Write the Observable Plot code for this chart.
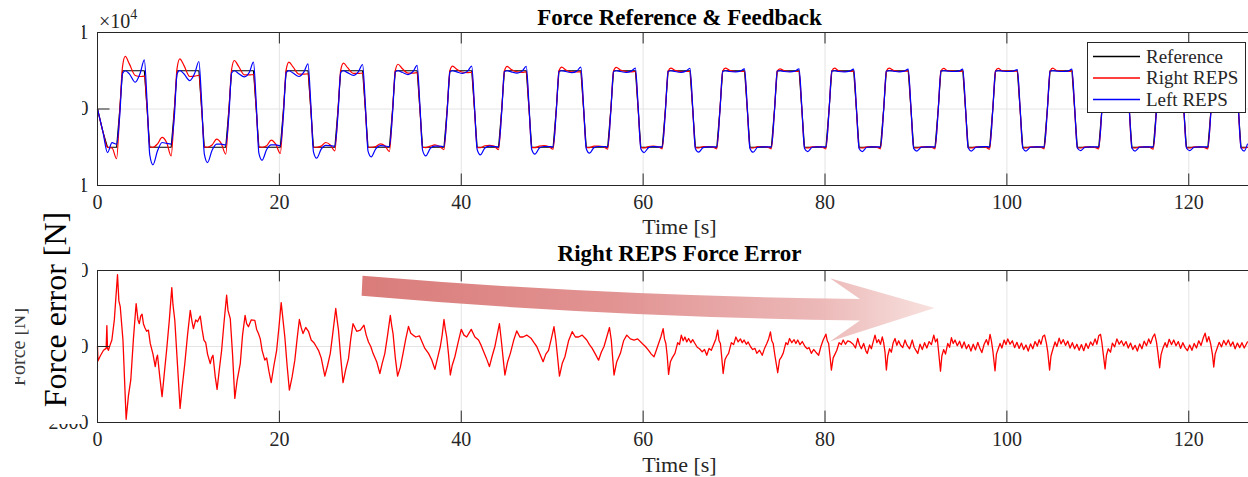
<!DOCTYPE html>
<html><head><meta charset="utf-8">
<script src="https://cdn.jsdelivr.net/npm/d3@7"></script>
<script src="https://cdn.jsdelivr.net/npm/@observablehq/plot@0.6"></script>
<style>
html,body{margin:0;padding:0;background:#fff;}
#fig{position:relative;width:1248px;height:477px;overflow:hidden;background:#fff;}
#fig > svg{position:absolute;left:0;}
#fig svg text{font-family:"Liberation Serif","Times New Roman",serif;}
</style></head><body><div id="fig"></div>
<script>
// ---------- labels ----------
const titles = ["Force Reference & Feedback", "Right REPS Force Error"];
const xLabel = "Time [s]";
const yLabelOld = "Force [N]";
const yLabelNew = "Force error [N]";
const seriesNames = ["Reference", "Right REPS", "Left REPS"];
const seriesColors = ["#000000", "#ff0000", "#0000ff"];
const xTicks = [0, 20, 40, 60, 80, 100, 120];
const forceTicks = [-10000, 0, 10000];
const errTicks = [-2000, 0, 2000];

// ---------- top panel: time samples (s) ----------
const fbT = [
0,
0.1,0.6,1.1,1.6,2.1,2.45,2.75,3.05,3.5,4.15,4.7,5.15,5.45,5.75,
6.1,6.6,7.1,7.6,8.1,8.45,8.75,9.05,9.5,10.15,10.7,11.15,11.45,11.75,
12.1,12.6,13.1,13.6,14.1,14.45,14.75,15.05,15.5,16.15,16.7,17.15,17.45,17.75,
18.1,18.6,19.1,19.6,20.1,20.45,20.75,21.05,21.5,22.15,22.7,23.15,23.45,23.75,
24.1,24.6,25.1,25.6,26.1,26.45,26.75,27.05,27.5,28.15,28.7,29.15,29.45,29.75,
30.1,30.6,31.1,31.6,32.1,32.45,32.75,33.05,33.5,34.15,34.7,35.15,35.45,35.75,
36.1,36.6,37.1,37.6,38.1,38.45,38.75,39.05,39.5,40.15,40.7,41.15,41.45,41.75,
42.1,42.6,43.1,43.6,44.1,44.45,44.75,45.05,45.5,46.15,46.7,47.15,47.45,47.75,
48.1,48.6,49.1,49.6,50.1,50.45,50.75,51.05,51.5,52.15,52.7,53.15,53.45,53.75,
54.1,54.6,55.1,55.6,56.1,56.45,56.75,57.05,57.5,58.15,58.7,59.15,59.45,59.75,
60.1,60.6,61.1,61.6,62.1,62.45,62.75,63.05,63.5,64.15,64.7,65.15,65.45,65.75,
66.1,66.6,67.1,67.6,68.1,68.45,68.75,69.05,69.5,70.15,70.7,71.15,71.45,71.75,
72.1,72.6,73.1,73.6,74.1,74.45,74.75,75.05,75.5,76.15,76.7,77.15,77.45,77.75,
78.1,78.6,79.1,79.6,80.1,80.45,80.75,81.05,81.5,82.15,82.7,83.15,83.45,83.75,
84.1,84.6,85.1,85.6,86.1,86.45,86.75,87.05,87.5,88.15,88.7,89.15,89.45,89.75,
90.1,90.6,91.1,91.6,92.1,92.45,92.75,93.05,93.5,94.15,94.7,95.15,95.45,95.75,
96.1,96.6,97.1,97.6,98.1,98.45,98.75,99.05,99.5,100.15,100.7,101.15,101.45,101.75,
102.1,102.6,103.1,103.6,104.1,104.45,104.75,105.05,105.5,106.15,106.7,107.15,107.45,107.75,
108.1,108.6,109.1,109.6,110.1,110.45,110.75,111.05,111.5,112.15,112.7,113.15,113.45,113.75,
114.1,114.6,115.1,115.6,116.1,116.45,116.75,117.05,117.5,118.15,118.7,119.15,119.45,119.75,
120.1,120.6,121.1,121.6,122.1,122.45,122.75,123.05,123.5,124.15,124.7,125.15,125.45,125.75,
126.1,126.45];

// Reference force (N)
const refV = [
0,
-500,-3000,-5000,-5000,-5000,0,5000,5000,5000,5000,5000,5000,0,-5000,
-5000,-5000,-5000,-5000,-5000,0,5000,5000,5000,5000,5000,5000,0,-5000,
-5000,-5000,-5000,-5000,-5000,0,5000,5000,5000,5000,5000,5000,0,-5000,
-5000,-5000,-5000,-5000,-5000,0,5000,5000,5000,5000,5000,5000,0,-5000,
-5000,-5000,-5000,-5000,-5000,0,5000,5000,5000,5000,5000,5000,0,-5000,
-5000,-5000,-5000,-5000,-5000,0,5000,5000,5000,5000,5000,5000,0,-5000,
-5000,-5000,-5000,-5000,-5000,0,5000,5000,5000,5000,5000,5000,0,-5000,
-5000,-5000,-5000,-5000,-5000,0,5000,5000,5000,5000,5000,5000,0,-5000,
-5000,-5000,-5000,-5000,-5000,0,5000,5000,5000,5000,5000,5000,0,-5000,
-5000,-5000,-5000,-5000,-5000,0,5000,5000,5000,5000,5000,5000,0,-5000,
-5000,-5000,-5000,-5000,-5000,0,5000,5000,5000,5000,5000,5000,0,-5000,
-5000,-5000,-5000,-5000,-5000,0,5000,5000,5000,5000,5000,5000,0,-5000,
-5000,-5000,-5000,-5000,-5000,0,5000,5000,5000,5000,5000,5000,0,-5000,
-5000,-5000,-5000,-5000,-5000,0,5000,5000,5000,5000,5000,5000,0,-5000,
-5000,-5000,-5000,-5000,-5000,0,5000,5000,5000,5000,5000,5000,0,-5000,
-5000,-5000,-5000,-5000,-5000,0,5000,5000,5000,5000,5000,5000,0,-5000,
-5000,-5000,-5000,-5000,-5000,0,5000,5000,5000,5000,5000,5000,0,-5000,
-5000,-5000,-5000,-5000,-5000,0,5000,5000,5000,5000,5000,5000,0,-5000,
-5000,-5000,-5000,-5000,-5000,0,5000,5000,5000,5000,5000,5000,0,-5000,
-5000,-5000,-5000,-5000,-5000,0,5000,5000,5000,5000,5000,5000,0,-5000,
-5000,-5000,-5000,-5000,-5000,0,5000,5000,5000,5000,5000,5000,0,-5000,
-5000,-5000];

// Right REPS force (N)
const rightV = [
0,
-500,-3000,-5000,-5100,-6500,-200,5500,6870,5900,4380,4250,4300,200,-4950,
-5000,-4550,-3720,-4380,-6130,-200,5300,6560,5700,4250,4300,4400,200,-4950,
-5000,-4700,-3940,-4500,-5900,-200,5200,6340,5600,4450,4450,4500,200,-4950,
-5000,-4800,-4070,-4600,-5820,-200,5150,6130,5500,4550,4550,4600,200,-5000,
-5000,-4850,-4380,-4700,-5470,-100,5100,6000,5400,4650,4650,4700,150,-5000,
-5000,-4900,-4550,-4800,-5560,-100,5050,5850,5300,4700,4700,4750,150,-5000,
-5050,-4850,-4700,-4900,-5300,-100,5000,5600,5200,4800,4750,4800,100,-5050,
-5050,-4800,-4750,-4850,-5300,-100,5000,5560,5150,4850,4800,4850,100,-5050,
-5050,-4850,-4800,-4900,-5250,-50,5000,5470,5100,4850,4850,4850,100,-5050,
-5050,-4850,-4850,-4900,-5250,-50,5000,5450,5100,4900,4850,4900,100,-5050,
-5100,-4900,-4850,-4900,-5200,-50,4950,5350,5050,4900,4900,4900,50,-5050,
-5100,-4900,-4900,-4950,-5200,-50,4950,5340,5050,4900,4900,4900,50,-5100,
-5100,-4900,-4900,-4950,-5200,0,4950,5250,5000,4900,4900,4900,50,-5100,
-5100,-4950,-4900,-4950,-5200,0,4950,5340,5000,4900,4900,4950,50,-5100,
-5100,-4950,-4900,-4950,-5200,0,4950,5340,5050,4900,4950,4950,50,-5100,
-5100,-4950,-4950,-4950,-5200,0,4950,5300,5000,4950,4900,4950,50,-5100,
-5100,-4950,-4900,-4950,-5250,0,4950,5300,5000,4950,4950,4950,50,-5100,
-5100,-4950,-4950,-4950,-5200,0,4950,5350,5000,4950,4900,4950,50,-5100,
-5100,-4950,-4950,-5000,-5200,0,4950,5300,5000,4950,4950,4950,50,-5100,
-5100,-4950,-4950,-4950,-5250,0,4950,5300,5000,4950,4950,4950,50,-5100,
-5100,-4950,-4950,-5000,-5200,0,4950,5300,5000,4950,4950,4950,50,-5100,
-5100,-5000];

// Left REPS force (N)
const leftV = [
0,
-500,-3000,-5690,-4400,-4600,-800,4600,5000,4600,3500,4700,6430,1000,-6000,
-7300,-5470,-4380,-4500,-4600,-1000,4600,5030,4600,3720,4700,6210,1000,-5900,
-7000,-5400,-4600,-4600,-4700,-800,4700,5000,4650,4200,4800,6130,900,-5800,
-6700,-5300,-4700,-4700,-4800,-700,4750,5000,4700,4250,4850,5900,800,-5600,
-6430,-5250,-4750,-4800,-4850,-600,4800,5000,4750,4400,4900,5820,700,-5500,
-6260,-5200,-4800,-4850,-4900,-500,4850,5000,4800,4500,4900,5690,600,-5400,
-6130,-5150,-4850,-4850,-4900,-400,4850,5000,4850,4650,4950,5600,500,-5300,
-6000,-5100,-4850,-4900,-4950,-400,4900,5000,4850,4700,4950,5560,500,-5300,
-5900,-5100,-4900,-4900,-4950,-300,4900,5000,4900,4750,4950,5470,400,-5200,
-5780,-5050,-4900,-4900,-4950,-300,4900,5000,4900,4800,4950,5340,400,-5200,
-5690,-5050,-4900,-4950,-4950,-300,4900,5000,4900,4800,4950,5300,300,-5200,
-5650,-5050,-4950,-4950,-4950,-200,4900,5000,4900,4850,4950,5250,300,-5150,
-5650,-5000,-4950,-4950,-4950,-200,4950,5000,4900,4850,4950,5250,300,-5150,
-5560,-5000,-4950,-4950,-4950,-200,4950,5000,4900,4850,4950,5200,300,-5150,
-5560,-5000,-4950,-4950,-4950,-200,4950,5000,4950,4850,4950,5200,300,-5150,
-5500,-5000,-4950,-4950,-4950,-200,4950,5000,4950,4900,4950,5200,300,-5100,
-5500,-5000,-4950,-4900,-4950,-200,4950,5000,4950,4900,4950,5150,300,-5100,
-5500,-5000,-4950,-4950,-4950,-200,4950,5000,4950,4900,4950,5200,300,-5100,
-5450,-5000,-4950,-4950,-4950,-200,4950,5000,4950,4900,4950,5150,300,-5100,
-5500,-5000,-4950,-4950,-4950,-200,4950,5000,4950,4900,4950,5200,300,-5100,
-5450,-5000,-4950,-4950,-4950,-200,4950,5000,4950,4900,4950,5200,300,-5100,
-5500,-4600];

// ---------- bottom panel: Right REPS force error [t (s), error (N)] ----------
const errPts = [
[0,0],[0.05,-380],[0.3,-250],[0.66,-100],[0.95,-50],[1.03,550],[1.1,-50],[1.2,-100],[1.4,50],[1.58,170],[1.85,700],[2.2,1890],[2.35,1200],[2.5,1050],[2.8,170],[3.15,-1916],[3.4,-1300],[3.66,-880],[3.95,200],[4.25,1130],[4.45,700],[4.6,600],[4.75,800],[4.9,850],[5.05,600],[5.2,500],[5.4,400],[5.6,430],[5.8,80],
[6.1,-200],[6.35,-530],[6.5,-300],[6.6,-230],[6.85,-800],[7.1,-1320],[7.35,-700],[7.6,-100],[7.9,700],[8.17,1550],[8.3,1100],[8.5,690],[8.8,-500],[9.08,-1630],[9.3,-1100],[9.6,-450],[9.9,300],[10.2,950],[10.4,650],[10.55,470],[10.8,700],[11.0,650],[11.3,800],[11.5,450],[11.7,170],[11.9,100],
[12.1,-200],[12.4,-450],[12.55,-300],[12.7,-230],[12.95,-800],[13.15,-1130],[13.4,-600],[13.65,-100],[13.9,600],[14.2,1350],[14.35,950],[14.6,735],[14.85,-200],[15.1,-1365],[15.35,-900],[15.7,-450],[15.95,300],[16.23,820],[16.4,600],[16.6,520],[16.9,700],[17.3,690],[17.5,450],[17.7,340],[17.9,200],
[18.1,-100],[18.4,-360],[18.6,-300],[18.85,-650],[19.1,-950],[19.4,-500],[19.7,-100],[19.95,500],[20.2,1155],[20.4,700],[20.6,250],[20.85,-500],[21.1,-1150],[21.4,-800],[21.7,-360],[21.95,200],[22.2,710],[22.4,500],[22.6,340],[22.9,500],[23.2,400],[23.5,170],[23.8,100],
[24.05,0],[24.3,-100],[24.6,-300],[25.0,-780],[25.3,-500],[25.6,-180],[25.9,400],[26.2,1000],[26.35,700],[26.5,430],[26.75,-300],[27.0,-950],[27.3,-600],[27.6,-320],[27.85,200],[28.1,600],[28.5,400],[28.9,430],[29.3,560],[29.55,300],[29.8,120],
[30.05,0],[30.3,-180],[30.7,-400],[31.05,-710],[31.3,-450],[31.6,-180],[31.9,300],[32.2,820],[32.35,550],[32.5,340],[32.75,-300],[33.0,-780],[33.3,-550],[33.6,-180],[33.9,200],[34.2,530],[34.45,350],[34.7,300],[35.0,250],[35.4,280],[35.6,170],
[36.0,-50],[36.4,-180],[36.75,-350],[37.1,-600],[37.4,-300],[37.7,0],[37.9,300],[38.1,710],[38.25,450],[38.4,250],[38.6,-200],[38.8,-750],[39.0,-500],[39.3,-270],[39.65,100],[40.0,450],[40.3,300],[40.6,250],[40.85,350],[41.1,450],[41.5,250],[41.9,170],
[42.15,50],[42.4,-100],[42.75,-300],[43.1,-530],[43.4,-250],[43.7,0],[43.95,300],[44.2,600],[44.4,170],[44.6,-300],[44.8,-750],[45.1,-400],[45.4,-180],[45.75,150],[46.1,410],[46.45,250],[46.8,250],[47.2,300],[47.7,210],
[48.0,100],[48.3,0],[48.65,-200],[49.0,-400],[49.3,-200],[49.6,-100],[49.9,200],[50.2,520],[50.4,170],[50.6,-300],[50.8,-780],[51.1,-450],[51.4,-270],[51.8,150],[52.2,390],[52.55,250],[52.9,250],[53.3,300],[53.8,170],
[54.1,50],[54.4,-50],[54.75,-200],[55.1,-360],[55.4,-150],[55.7,0],[56.0,250],[56.3,500],[56.5,170],[56.65,-300],[56.8,-750],[57.1,-400],[57.5,-180],[57.85,150],[58.2,300],[58.6,200],[59.0,170],[59.4,200],[59.9,80],
[60.25,0],[60.6,-100],[60.9,-200],[61.2,-270],[61.45,-100],[61.7,80],[61.95,250],[62.2,470],[62.35,200],[62.5,80],[62.65,-250],[62.8,-735],[63.0,-400],[63.2,-300],[63.5,-180],[63.8,100],[64.0,50],[64.2,300],[64.4,150],[64.6,250],[64.8,120],[65.0,210],[65.25,100],[65.45,180],[65.7,80],
[65.95,-20],[66.2,-60],[66.5,-140],[66.75,-80],[67.0,-230],[67.25,-50],[67.5,-100],[67.8,80],[68.0,200],[68.2,430],[68.35,150],[68.5,80],[68.65,-300],[68.8,-710],[69.0,-350],[69.2,-250],[69.4,-180],[69.7,100],[69.95,50],[70.2,250],[70.45,120],[70.7,200],[70.9,100],[71.1,170],[71.35,60],[71.55,120],[71.8,0],
[72.05,-80],[72.3,-50],[72.5,-180],[72.8,-100],[73.1,-230],[73.35,-50],[73.6,80],[73.8,200],[74.0,385],[74.15,150],[74.3,80],[74.5,-250],[74.8,-690],[75.0,-350],[75.2,-280],[75.4,-180],[75.7,100],[75.9,50],[76.1,210],[76.35,100],[76.6,180],[76.8,80],[77.0,170],[77.25,50],[77.5,130],[77.8,0],
[78.05,-60],[78.25,-30],[78.5,-180],[78.75,-80],[79.0,-150],[79.3,-230],[79.55,0],[79.8,170],[80.1,325],[80.25,150],[80.4,80],[80.55,-250],[80.7,-620],[80.9,-300],[81.1,-200],[81.3,-100],[81.55,100],[81.8,50],[82.0,170],[82.25,60],[82.5,150],[82.8,120],[83.1,60],[83.35,-40],[83.6,210],[83.8,40],
[84.0,-60],[84.25,80],[84.5,-120],[84.65,-184],[84.9,40],[85.1,-60],[85.3,120],[85.5,300],[85.7,100],[85.9,180],[86.1,60],[86.3,250],[86.45,100],[86.6,-150],[86.75,-620],[86.9,-250],[87.1,-60],[87.3,-150],[87.5,100],[87.7,210],[87.9,30],[88.1,150],[88.3,40],[88.55,-30],[88.8,170],[89.0,40],[89.3,-60],[89.6,170],[89.8,-20],[90.0,-100],[90.2,-184],
[90.45,60],[90.7,-80],[90.95,100],[91.2,-40],[91.45,130],[91.7,50],[91.96,300],[92.15,120],[92.35,200],[92.5,-150],[92.7,-650],[92.85,-250],[93.05,-80],[93.25,-200],[93.5,80],[93.7,-20],[93.9,230],[94.1,80],[94.3,170],[94.55,20],[94.8,140],[95.05,-40],[95.3,120],[95.55,-60],[95.8,50],[96.05,-120],
[96.3,60],[96.55,-90],[96.8,110],[97.0,-30],[97.25,-160],[97.5,60],[97.75,180],[97.95,40],[98.15,320],[98.3,150],[98.45,-100],[98.7,-640],[98.85,-200],[99.05,-60],[99.25,80],[99.45,-40],[99.7,170],[99.9,50],[100.1,200],[100.35,60],[100.6,150],[100.85,-30],[101.1,110],[101.35,-50],[101.6,90],[101.85,-80],[102.1,40],
[102.35,-120],[102.6,70],[102.85,-60],[103.1,130],[103.35,10],[103.55,180],[103.75,60],[103.95,260],[104.15,300],[104.35,80],[104.5,-150],[104.7,-620],[104.85,-250],[105.05,-80],[105.3,120],[105.5,0],[105.75,220],[105.95,70],[106.2,180],[106.45,30],[106.7,140],[106.95,-40],[107.2,100],[107.45,-60],[107.7,60],[107.95,-100],
[108.2,50],[108.45,-110],[108.7,80],[108.95,-50],[109.2,120],[109.45,30],[109.7,200],[109.9,60],[110.1,280],[110.3,320],[110.45,100],[110.6,-200],[110.8,-590],[110.95,-230],[111.15,-60],[111.4,-150],[111.6,90],[111.85,-10],[112.1,200],[112.35,60],[112.6,150],[112.85,20],[113.1,130],[113.35,-40],[113.6,90],[113.85,-80],
[114.1,30],[114.35,-120],[114.6,70],[114.85,-60],[115.1,140],[115.35,20],[115.6,200],[115.8,80],[116.05,250],[116.25,330],[116.45,120],[116.6,-150],[116.8,-560],[116.95,-220],[117.15,-50],[117.4,100],[117.6,-20],[117.85,190],[118.1,50],[118.35,170],[118.6,20],[118.85,130],[119.1,-50],[119.35,100],[119.6,-30],[119.85,-110],
[120.1,40],[120.35,-100],[120.6,80],[120.85,-40],[121.1,150],[121.35,30],[121.6,230],[121.8,350],[122.0,120],[122.2,260],[122.4,80],[122.6,-200],[122.75,-540],[122.9,-200],[123.1,-60],[123.35,110],[123.6,-10],[123.85,160],[124.1,40],[124.35,170],[124.6,10],[124.85,120],[125.1,-60],[125.35,90],[125.6,-30],[125.85,100],[126.1,-40],[126.45,120]
];

// ---------- annotation arrow (data coords of bottom panel: [t, N]) ----------
const arrowTop = [[29.2,1848],[55.3,1320],[83.9,1234]];      // start, control, notch
const arrowHead = [[80.6,1785],[92.1,997],[80.6,121]];        // barb, tip, barb
const arrowBottom = [[83.9,672],[55.3,769],[29.1,1320]];      // notch, control, start
const arrowStops = [["0%","#d6716f"],["45%","#df8b8a"],["80%","#eab3b2"],["100%","#f7dfdc"]];

// ---------- build ----------
const FONT = '"Liberation Serif","Times New Roman",serif';
const topData = fbT.map((t, i) => ({t, ref: refV[i], right: rightV[i], left: leftV[i]}));
const errData = errPts.map(([t, v]) => ({t, v}));
const minus = d => (d < 0 ? "\u2212" : "") + Math.abs(d);

function baseOpts(h, mt, mb) {
  return {
    width: 1261, height: h, marginLeft: 97, marginRight: 0, marginTop: mt, marginBottom: mb,
    style: {fontFamily: FONT, fontSize: "20px", color: "#262626", background: "transparent", overflow: "visible", maxWidth: "none"}
  };
}

const topPlot = Plot.plot({
  ...baseOpts(240, 32, 55),
  x: {domain: [0, 128], ticks: xTicks, tickSize: 0, tickPadding: 9, label: null},
  y: {domain: [-10000, 10000], ticks: forceTicks, tickSize: 0, tickPadding: 9, tickFormat: d => minus(d / 10000), label: null},
  marks: [
    Plot.ruleX(xTicks, {stroke: "#e4e4e4"}),
    Plot.ruleY([0], {stroke: "#e4e4e4"}),
    Plot.line(topData, {x: "t", y: "ref", stroke: seriesColors[0], strokeWidth: 1.1}),
    Plot.line(topData, {x: "t", y: "right", stroke: seriesColors[1], strokeWidth: 1.2, curve: "monotone-x"}),
    Plot.line(topData, {x: "t", y: "left", stroke: seriesColors[2], strokeWidth: 1.2, curve: "monotone-x"}),
    Plot.ruleX(xTicks, {y1: -10000, y2: -8500, stroke: "#262626"}),
    Plot.ruleX(xTicks, {y1: 10000, y2: 8500, stroke: "#262626"}),
    Plot.ruleY(forceTicks, {x1: 0, x2: 1.375, stroke: "#262626"}),
    Plot.frame({stroke: "#262626"}),
    Plot.text([titles[0]], {x: () => 64, frameAnchor: "top", lineAnchor: "bottom", dy: -8, fontSize: 23, fontWeight: "bold", fill: "#000"}),
    Plot.text([xLabel], {x: () => 64, frameAnchor: "bottom", lineAnchor: "middle", dy: 41.5, fontSize: 22, fill: "#262626"})
  ]
});

function arrowMark(index, scales) {
  const X = scales.x, Y = scales.y;
  const P = ([t, v]) => `${X(t)},${Y(v)}`;
  const g = d3.create("svg:g");
  const grad = g.append("defs").append("linearGradient")
    .attr("id", "arrowGrad").attr("gradientUnits", "userSpaceOnUse")
    .attr("x1", X(arrowTop[0][0])).attr("x2", X(arrowHead[1][0])).attr("y1", 0).attr("y2", 0);
  for (const [o, c] of arrowStops) grad.append("stop").attr("offset", o).attr("stop-color", c);
  const d = `M${P(arrowTop[0])} Q${P(arrowTop[1])} ${P(arrowTop[2])} L${P(arrowHead[0])} L${P(arrowHead[1])} L${P(arrowHead[2])} L${P(arrowBottom[0])} Q${P(arrowBottom[1])} ${P(arrowBottom[2])} Z`;
  g.append("path").attr("d", d).attr("fill", "url(#arrowGrad)").attr("fill-opacity", 0.92);
  return g.node();
}

const botPlot = Plot.plot({
  ...baseOpts(237, 30, 55),
  x: {domain: [0, 128], ticks: xTicks, tickSize: 0, tickPadding: 9, label: null},
  y: {domain: [-2000, 2000], ticks: errTicks, tickSize: 0, tickPadding: 9, tickFormat: d => minus(d), label: null},
  marks: [
    Plot.ruleX(xTicks, {stroke: "#e4e4e4"}),
    Plot.ruleY([0], {stroke: "#e4e4e4"}),
    arrowMark,
    Plot.line(errData, {x: "t", y: "v", stroke: seriesColors[1], strokeWidth: 1.3}),
    Plot.ruleX(xTicks, {y1: -2000, y2: -1700, stroke: "#262626"}),
    Plot.ruleX(xTicks, {y1: 2000, y2: 1700, stroke: "#262626"}),
    Plot.ruleY(errTicks, {x1: 0, x2: 1.375, stroke: "#262626"}),
    Plot.frame({stroke: "#262626"}),
    Plot.text([titles[1]], {x: () => 64, frameAnchor: "top", lineAnchor: "bottom", dy: -9.5, fontSize: 23, fontWeight: "bold", fill: "#000"}),
    Plot.text([xLabel], {x: () => 64, frameAnchor: "bottom", lineAnchor: "middle", dy: 42.5, fontSize: 22, fill: "#262626"})
  ]
});

const fig = document.getElementById("fig");
topPlot.style.top = "0px"; topPlot.style.maxWidth = "none";
botPlot.style.top = "240px"; botPlot.style.maxWidth = "none";
fig.appendChild(topPlot);
fig.appendChild(botPlot);

// ---------- overlay: cropped tick-label area, y labels, exponent, legend ----------
const ov = d3.select(fig).append("svg").attr("width", 1248).attr("height", 477)
  .style("top", "0px").style("font-family", FONT);
ov.append("rect").attr("x", 0).attr("y", 0).attr("width", 82).attr("height", 424).attr("fill", "#fff");
ov.append("clipPath").attr("id", "clipOld").append("rect").attr("x", 15).attr("y", 0).attr("width", 67).attr("height", 477);
ov.append("g").attr("clip-path", "url(#clipOld)")
  .append("text").attr("transform", "translate(25,347) rotate(-90)").attr("text-anchor", "middle")
  .attr("font-size", 20).attr("fill", "#3c3c3c").text(yLabelOld);
ov.append("text").attr("transform", "translate(66,309.5) rotate(-90)").attr("text-anchor", "middle")
  .attr("font-size", 32).attr("fill", "#000").text(yLabelNew);
const ex = ov.append("text").attr("x", 99).attr("y", 28).attr("font-size", 20).attr("fill", "#262626");
ex.append("tspan").text("\u00d710");
ex.append("tspan").attr("font-size", 14).attr("dy", -9).text("4");

const leg = ov.append("g");
leg.append("rect").attr("x", 1087.5).attr("y", 42.5).attr("width", 158).attr("height", 70)
  .attr("fill", "#fff").attr("stroke", "#262626");
const rowsY = [56.5, 78, 99.5];
seriesNames.forEach((name, i) => {
  leg.append("line").attr("x1", 1093).attr("x2", 1140).attr("y1", rowsY[i]).attr("y2", rowsY[i])
    .attr("stroke", seriesColors[i]).attr("stroke-width", 1.5);
  leg.append("text").attr("x", 1146).attr("y", rowsY[i] + 6.3).attr("font-size", 19).attr("fill", "#262626").text(name);
});
</script></body></html>
